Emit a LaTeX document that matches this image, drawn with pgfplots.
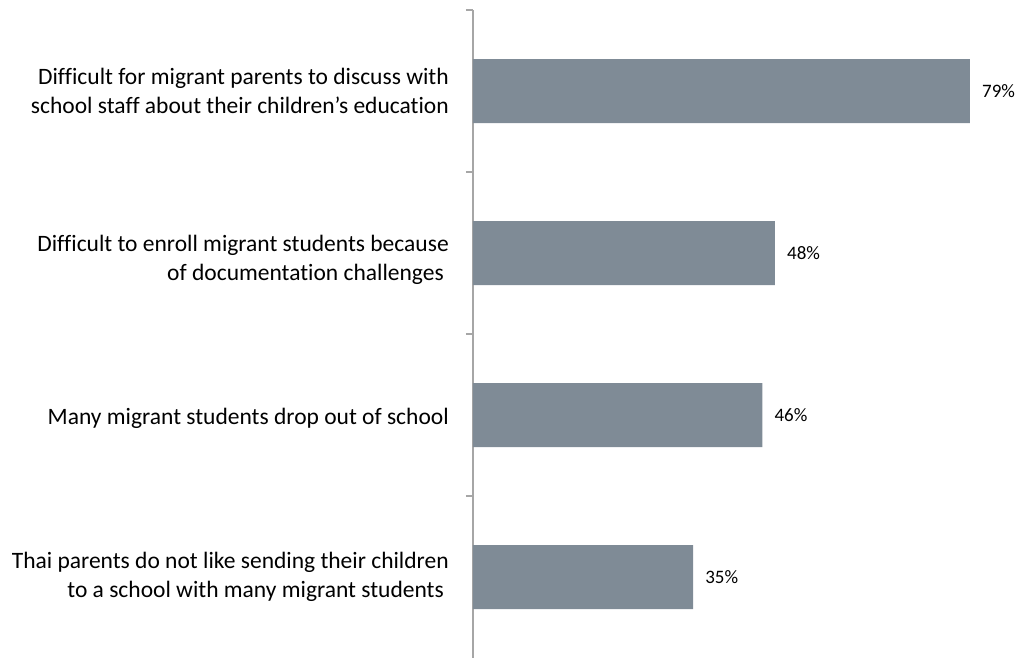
\documentclass[border=0pt]{standalone}
\usepackage{fontspec}
\setmainfont{Carlito}[Ligatures=CommonOff]
\usepackage{pgfplots}
\pgfplotsset{compat=1.18}
\definecolor{barc}{RGB}{127,139,150}
\definecolor{axc}{RGB}{166,166,166}
\begin{document}
\begin{tikzpicture}
\path[use as bounding box] (-473pt,0pt) rectangle (547pt,658pt);
\begin{axis}[
  at={(0pt,0pt)}, anchor=south west,
  scale only axis, width=547pt, height=648pt,
  xbar, bar width=64pt,
  xmin=0, xmax=86.96,
  ymin=-0.5, ymax=3.5, y dir=reverse,
  axis x line=none,
  axis y line=left,
  axis line style={-, axc, line width=1.2pt},
  ytick={0,1.043,2.022,3},
  yticklabels={
    {Difficult for migrant parents to discuss with\\school staff about their children’s education},
    {Difficult to enroll migrant students because\\of documentation challenges\hspace*{5pt}},
    {Many migrant students drop out of school},
    {Thai parents do not like sending their children\\to a school with many migrant students\hspace*{5pt}}},
  major tick length=0pt,
  minor ytick={-0.5,0.5,1.5,2.5},
  minor tick length=7pt,
  tick align=outside,
  tick style={axc, line width=1.2pt},
  yticklabel style={font=\fontsize{23.5}{29}\selectfont, align=right, anchor=east, inner sep=0pt, xshift=-24pt, text=black},
  /pgf/number format/assume math mode=true,
  nodes near coords={\pgfmathprintnumber{\pgfplotspointmeta}\%},
  every node near coord/.append style={anchor=west, inner sep=0pt, xshift=12pt, font=\fontsize{19}{23}\selectfont, text=black},
  clip=false,
]
\addplot[fill=barc, draw=none] coordinates {(79,0) (48,1) (46,2) (35,3)};
\end{axis}
\end{tikzpicture}
\end{document}
